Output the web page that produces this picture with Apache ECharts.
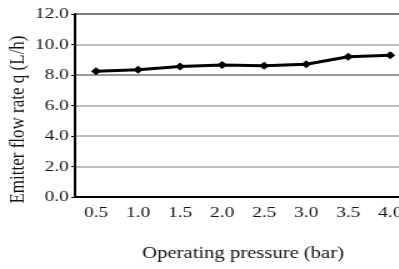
<!DOCTYPE html>
<html>
<head>
<meta charset="utf-8">
<script src="https://cdn.jsdelivr.net/npm/echarts@6/dist/echarts.min.js"></script>
<style>
	html, body { margin: 0; padding: 0; background: #fff; overflow: hidden; width: 399px; height: 269px; }
	/* the source figure is stretched sideways, so draw narrow and widen it */
	#chart { width: 329px; height: 269px; transform: scaleX(1.25); transform-origin: 0 0; }
</style>
</head>
<body>
<div id="chart"></div>
<script>
// operating pressure (bar) vs emitter flow rate q (L/h)
var pressure = ['0.5', '1.0', '1.5', '2.0', '2.5', '3.0', '3.5', '4.0'];
var flow_rate = [8.25, 8.35, 8.55, 8.65, 8.6, 8.7, 9.2, 9.3];

var serif = 'Liberation Serif, Times New Roman, serif';

var chart = echarts.init(document.getElementById('chart'));

chart.setOption({
	animation: false,
	grid: {
		left: 60,
		top: 14,
		right: 0,
		bottom: 72,
		outerBoundsMode: 'none'
	},
	xAxis: {
		type: 'category',
		data: pressure,
		boundaryGap: true,
		name: 'Operating pressure (bar)',
		nameLocation: 'middle',
		nameGap: 48,
		nameMoveOverlap: false,
		nameTextStyle: { fontFamily: serif, fontSize: 16.5, color: '#111' },
		axisLine: { lineStyle: { color: '#000', width: 2 } },
		axisTick: { alignWithLabel: true, length: 4, lineStyle: { color: '#555' } },
		axisLabel: { fontFamily: serif, fontSize: 15.5, color: '#111', margin: 8 },
		splitLine: { show: false }
	},
	yAxis: {
		type: 'value',
		min: 0,
		max: 12,
		interval: 2,
		name: 'Emitter flow rate q (L/h)',
		nameLocation: 'middle',
		nameGap: 37,
		nameMoveOverlap: false,
		nameTextStyle: { fontFamily: serif, fontSize: 17, color: '#111', padding: [0, 28, 0, 0] },
		axisLine: { show: true, lineStyle: { color: '#000', width: 2 } },
		axisTick: { show: true, inside: false, length: 3, lineStyle: { color: '#000' } },
		axisLabel: {
			fontFamily: serif, fontSize: 15.5, color: '#111', margin: 5,
			formatter: function (v) { return v.toFixed(1); }
		},
		splitLine: {
			lineStyle: {
				color: ['#999', '#aaa', '#aaa', '#aaa', '#777', '#aaa', '#555'],
				width: 1.5
			}
		}
	},
	series: [{
		type: 'line',
		data: flow_rate,
		symbol: 'diamond',
		symbolSize: 8,
		itemStyle: { color: '#000' },
		lineStyle: { color: '#000', width: 3 }
	}]
});
</script>
</body>
</html>
